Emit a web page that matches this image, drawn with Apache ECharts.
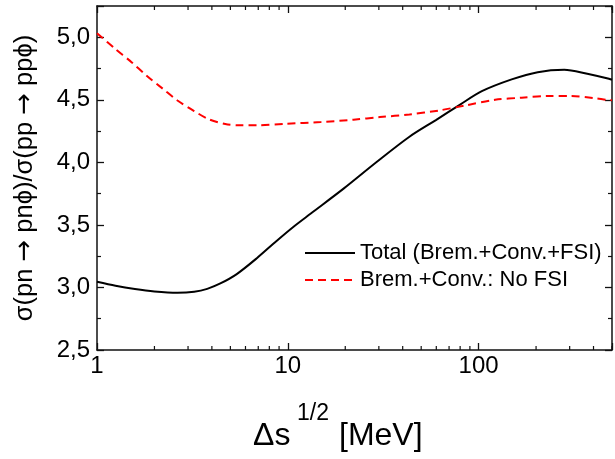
<!DOCTYPE html>
<html>
<head>
<meta charset="utf-8">
<script src="https://cdn.jsdelivr.net/npm/echarts@6/dist/echarts.min.js"></script>
<style>html,body{margin:0;padding:0;background:#fff}#c{width:615px;height:459px}</style>
</head>
<body>
<div id="c"></div>
<script>
// Total (Brem.+Conv.+FSI)
const totalX = [1.0, 1.25, 1.58, 2.0, 2.64, 3.23, 3.78, 4.43, 5.4, 6.86, 8.7, 10.6, 13.2, 19.6, 29.2, 43.4, 60, 80, 104, 149, 204, 281, 371, 470, 500];
const totalY = [3.045, 3.013, 2.987, 2.968, 2.958, 2.966, 2.989, 3.032, 3.107, 3.232, 3.37, 3.48, 3.591, 3.79, 4.003, 4.205, 4.34, 4.462, 4.569, 4.663, 4.721, 4.74, 4.708, 4.673, 4.66];
// Brem.+Conv.: No FSI
const noFsiX = [1.0, 1.244, 1.517, 1.814, 2.21, 2.64, 3.23, 3.86, 4.7, 5.62, 6.86, 9.8, 14.9, 22.1, 30.4, 43.4, 62.1, 85.3, 122, 168, 230, 304, 402, 470, 500];
const noFsiY = [5.033, 4.908, 4.801, 4.695, 4.589, 4.495, 4.41, 4.344, 4.306, 4.296, 4.296, 4.309, 4.322, 4.341, 4.362, 4.383, 4.415, 4.455, 4.5, 4.517, 4.53, 4.53, 4.514, 4.5, 4.497];
const seriesNames = ['Total (Brem.+Conv.+FSI)', 'Brem.+Conv.: No FSI'];
const xMajorLabels = [1, 10, 100];
const xMinorTicks = [2,3,4,5,6,7,8,9,20,30,40,50,60,70,80,90,200,300,400,500];
const yTickLabels = ['2,5','3,0','3,5','4,0','4,5','5,0'];
const xMin = 1, xMax = 500, yMin = 2.5, yMax = 5.25;

const FONT = 'Liberation Sans, Arial, sans-serif';
const axisLine = {show: true, lineStyle: {color: '#111', width: 1.5}};
const pair = (xs, ys) => xs.map((x, i) => [x, ys[i]]);

const chart = echarts.init(document.getElementById('c'), null, {renderer: 'canvas'});
const gridPos = {left: 97, right: -3, top: 6, bottom: 109};
const baseX = {type: 'log', logBase: 10, min: xMin, max: xMax, splitLine: {show: false}};
chart.setOption({
  animation: false,
  grid: Object.assign({containLabel: false}, gridPos),
  xAxis: [
    Object.assign({}, baseX, {
      position: 'bottom', axisLine,
      axisTick: {inside: true, length: 7, lineStyle: {color: '#111', width: 1.3}},
      axisLabel: {fontSize: 24, fontFamily: FONT, color: '#000', margin: 4,
        formatter: v => xMajorLabels.includes(Math.round(v)) ? String(Math.round(v)) : ''}
    }),
    Object.assign({}, baseX, {
      position: 'top', axisLine,
      axisTick: {inside: true, length: 7, lineStyle: {color: '#111', width: 1.3}},
      axisLabel: {show: false}
    })
  ],
  yAxis: [
    {
      type: 'value', min: yMin, max: yMax, interval: 0.5, position: 'left',
      splitLine: {show: false}, axisLine,
      axisTick: {inside: true, length: 7, lineStyle: {color: '#111', width: 1.3}},
      minorTick: {show: true, splitNumber: 2, length: 4, lineStyle: {color: '#111', width: 1.2}},
      axisLabel: {fontSize: 24, fontFamily: FONT, color: '#000', margin: 7, showMaxLabel: false,
        formatter: v => { const i = Math.round((v - yMin) / 0.5); return Math.abs(v - (yMin + i * 0.5)) < 1e-6 ? (yTickLabels[i] || '') : ''; }},
      name: 'σ(pn {a|→} pnϕ)/σ(pp {a|→} ppϕ)', nameLocation: 'middle', nameGap: 59, nameRotate: 90,
      nameTextStyle: {fontSize: 25.5, fontFamily: FONT, color: '#000',
        rich: {a: {fontSize: 26, fontFamily: 'DejaVu Sans', color: '#000'}}}
    },
    {
      type: 'value', min: yMin, max: yMax, interval: 0.5, position: 'right',
      splitLine: {show: false}, axisLine,
      axisTick: {inside: true, length: 7, lineStyle: {color: '#111', width: 1.3}},
      minorTick: {show: true, splitNumber: 2, length: 4, lineStyle: {color: '#111', width: 1.2}},
      axisLabel: {show: false}
    }
  ],
  legend: {
    orient: 'vertical', left: 304, top: 242, padding: 0, itemWidth: 50, itemHeight: 14, itemGap: 5,
    itemStyle: {opacity: 0, borderWidth: 0},
    textStyle: {fontSize: 22, fontFamily: FONT, color: '#000'},
    data: seriesNames
  },
  series: [
    {name: seriesNames[0], type: 'line', showSymbol: false, symbol: 'none', smooth: 0.3,
     data: pair(totalX, totalY), lineStyle: {color: '#000', width: 2}, itemStyle: {color: '#000'}},
    {name: seriesNames[1], type: 'line', showSymbol: false, symbol: 'none', smooth: 0.3,
     data: pair(noFsiX, noFsiY), lineStyle: {color: '#ff0000', width: 2, type: [8, 5]}, itemStyle: {color: '#ff0000'}},
    {
      name: 'minorTicksX', type: 'custom', silent: true, clip: false,
      data: xMinorTicks.map(v => [v]),
      encode: {x: 0},
      renderItem: (params, api) => {
        const x = api.value(0);
        const b = api.coord([x, yMin]);
        const t = api.coord([x, yMax]);
        const st = {stroke: '#111', lineWidth: 1.2};
        return {type: 'group', children: [
          {type: 'line', shape: {x1: b[0], y1: b[1], x2: b[0], y2: b[1] - 4}, style: st},
          {type: 'line', shape: {x1: t[0], y1: t[1], x2: t[0], y2: t[1] + 4}, style: st}
        ]};
      }
    }
  ],
  graphic: [
    {type: 'text', x: 253, y: 436, style: {text: 'Δs', font: '32px ' + FONT, fill: '#000', verticalAlign: 'middle'}},
    {type: 'text', x: 297, y: 414, style: {text: '1/2', font: '23px ' + FONT, fill: '#000', verticalAlign: 'middle'}},
    {type: 'text', x: 339, y: 436, style: {text: '[MeV]', font: '32px ' + FONT, fill: '#000', verticalAlign: 'middle'}}
  ]
});
</script>
</body>
</html>
